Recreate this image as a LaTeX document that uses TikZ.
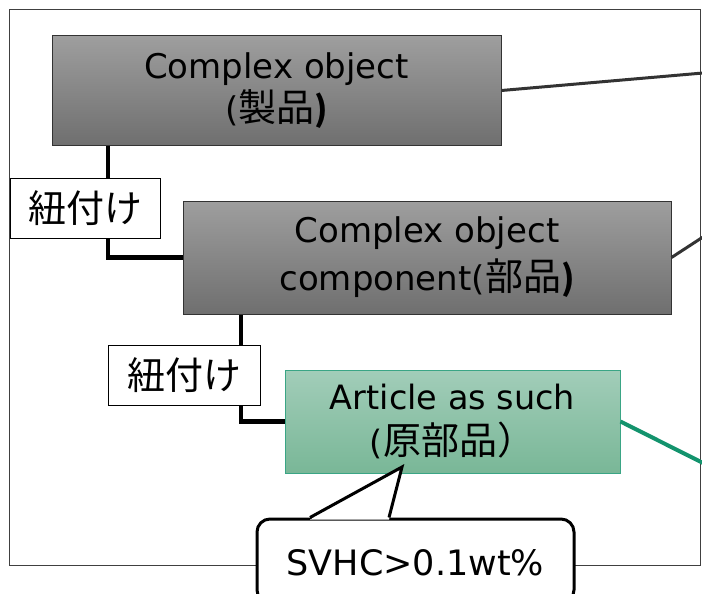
\documentclass[tikz,border=0pt]{standalone}
\usepackage{fontspec}
\setmainfont{DejaVu Sans}
\newfontfamily\jp{Noto Sans CJK JP}
\usepackage{tikz}
\usetikzlibrary{positioning}

\definecolor{boxline}{HTML}{333333}
\definecolor{grayhi}{HTML}{9E9E9E}
\definecolor{graylo}{HTML}{6F6F6F}
\definecolor{greenhi}{HTML}{A2CDB9}
\definecolor{greenlo}{HTML}{79B797}
\definecolor{greenline}{HTML}{3AA585}
\definecolor{greenlink}{HTML}{13936D}

\newcommand{\jpbig}[1]{{\jp\fontsize{38}{43}\selectfont #1}}

\tikzset{
	graybox/.style = {draw=boxline, line width=1pt, top color=grayhi, bottom color=graylo,
		align=center, inner sep=0pt},
	greenbox/.style = {draw=greenline, line width=1pt, top color=greenhi, bottom color=greenlo,
		align=center, inner sep=0pt},
	linkbox/.style = {draw, line width=1pt, fill=white, inner sep=0pt,
		minimum width=150pt, minimum height=60pt, font=\jp\fontsize{38}{42}\selectfont},
	conn/.style = {line width=4.5pt, black},
	outline/.style = {line width=3pt, boxline},
}

\begin{document}
\begin{tikzpicture}[x=1pt, y=-1pt]
		\useasboundingbox (0,0) rectangle (702,594);
		\draw[line width=1pt, black!75] (9.5,9.5) rectangle (700,565);

		\begin{scope}[every node/.style = {font=\fontsize{34}{43}\selectfont}]
			\node[graybox, minimum width=449pt, minimum height=109pt] (obj) at (276.5,90.5)
				{Complex object\\(\jpbig{製品}{\jp\bfseries )}};
			\node[graybox, minimum width=488pt, minimum height=113pt, font=\fontsize{34}{48}\selectfont] (comp) at (427,257.5)
				{Complex object\\component(\jpbig{部品}{\jp\bfseries )}};
			\node[greenbox, minimum width=335pt, minimum height=103pt, font=\fontsize{33.5}{45}\selectfont] (art) at (452.5,421.5)
				{Article as such\\(\jpbig{原部品）}};
		\end{scope}

		\node[linkbox] (link1) at (85,208) {紐付け};
		\node[linkbox, minimum width=152pt] (link2) at (184,375) {紐付け};

		\coordinate (e1) at (703,73);
		\coordinate (e2) at (703,237);
		\coordinate (e3) at (703,463);

		% links between levels
		\draw[conn] ([xshift=23pt]link1.north |- obj.south) -- ([xshift=23pt]link1.north);
		\draw[conn] ([xshift=23pt]link1.south) |- (comp.west);
		\draw[conn] ([xshift=57pt]link2.north |- comp.south) -- ([xshift=57pt]link2.north);
		\draw[conn] ([xshift=57pt]link2.south) |- (art.west);

		\draw[outline] (obj.east) -- (e1);
		\draw[outline] (comp.east) -- (e2);
		\draw[line width=4pt, greenlink] (art.east) -- (e3);

		% callout
		\node[draw, line width=3pt, rounded corners=13pt, fill=white, minimum width=317pt,
			minimum height=84pt, text depth=0pt, font=\fontsize{35}{40}\selectfont] (note) at (415.5,561)
			{\raisebox{-3pt}{SVHC>0.1wt\%}};
		\coordinate (tip) at (402,467);
		\coordinate (pl) at ([xshift=-105.5pt]note.north);
		\coordinate (pr) at ([xshift=-26.5pt]note.north);
		\fill[white] ([yshift=-2pt]pl) -- (tip) -- ([yshift=-2pt]pr) -- cycle;
		\draw[line width=3pt, line join=miter] (pl) -- (tip) -- (pr);
	\end{tikzpicture}
\end{document}
